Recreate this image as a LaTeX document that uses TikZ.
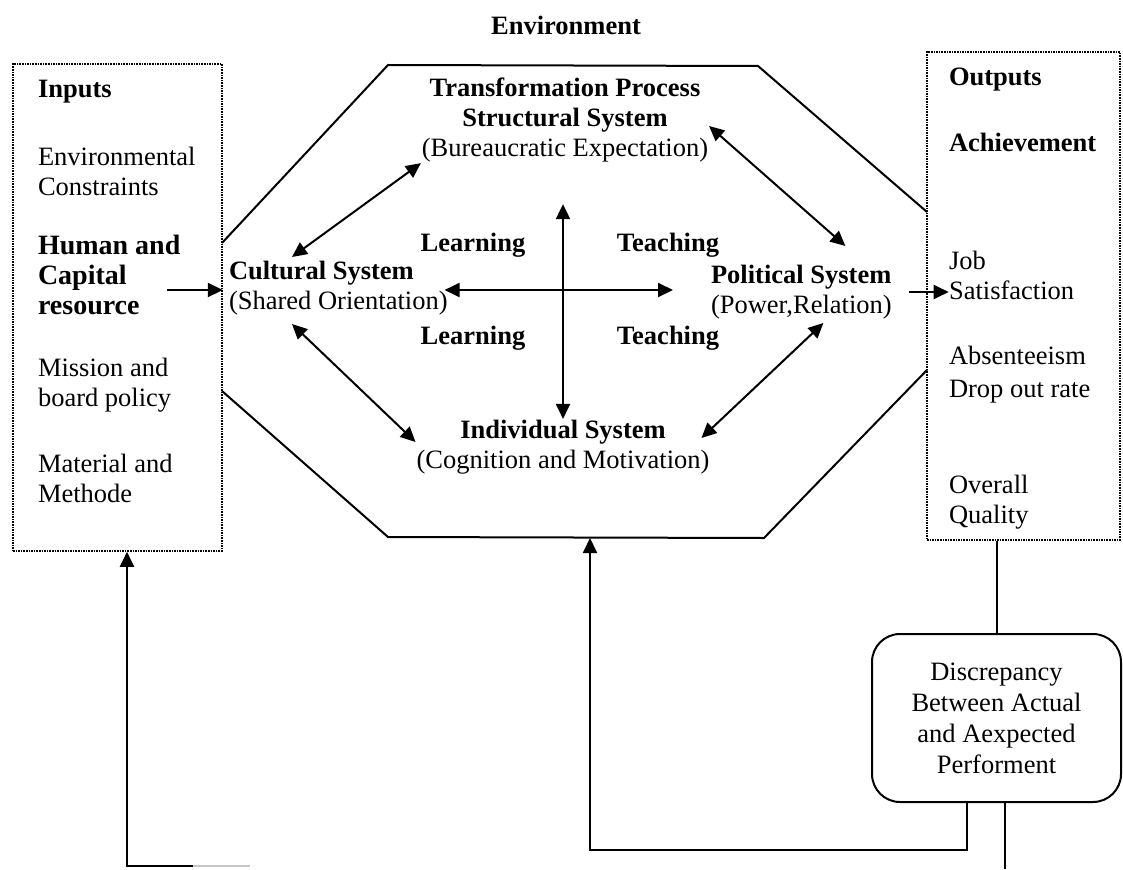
\documentclass[tikz,border=0pt]{standalone}
\usepackage{fontspec}
\setmainfont{Liberation Serif}
\usetikzlibrary{arrows.meta, calc}
\newcommand{\fs}{\fontsize{26.5}{30}\selectfont}

\begin{document}
\begin{tikzpicture}[x=1pt, y=-1pt, font=\fs, line width=2pt]
  \tikzset{
    txt/.style={inner sep=0pt, align=left},
    hd/.style={txt, font=\fs\bfseries},
    sys/.style={inner sep=0pt, align=center},
    frame/.style={draw, densely dotted, line width=1.6pt, inner sep=0pt},
    arr/.style={-{Triangle[length=15pt, width=14pt]}},
    dbl/.style={{Triangle[length=15pt, width=14pt]}-{Triangle[length=15pt, width=14pt]}}
  }
  \useasboundingbox (0,0) rectangle (1123,869);

  \node[hd] (env) at (566,25) {Environment};

  % inputs
  \node[frame, minimum width=209pt, minimum height=487pt] (inbox) at (117.5,307.5) {};
  \node[hd, anchor=west] (inp) at (37,92) {Inputs};
  \node[txt, anchor=west] (envc) at (37,171) {Environmental\\Constraints};
  \node[hd, anchor=west, font=\fontsize{28}{30}\selectfont\bfseries] (hum) at (37,275) {Human and\\Capital\\resource};
  \node[txt, anchor=west] (mis) at (37,385) {Mission and\\board policy};
  \node[txt, anchor=west] (mat) at (37,478) {Material and\\Methode};

  % outputs
  \node[frame, minimum width=193pt, minimum height=488pt] (outbox) at (1023.5,296) {};
  \node[hd, anchor=west] (outp) at (948,80) {Outputs};
  \node[hd, anchor=west] (ach) at (948,142) {Achievement};
  \node[txt, anchor=west] (job) at (948,275) {Job\\Satisfaction};
  \node[txt, anchor=west] (abs) at (948,355) {Absenteeism};
  \node[txt, anchor=west] (drop) at (948,392) {Drop out rate};
  \node[txt, anchor=west] (qual) at (948,502) {Overall\\Quality};

  % transformation octagon
  \draw (222,243) -- (388,65) -- (758,66) -- (927,212);
  \draw (927,370) -- (764,538) -- (388,537) -- (222,391);

  \node[sys] (trans) at (565,120) {{\bfseries Transformation Process}\\{\bfseries Structural System}\\(Bureaucratic Expectation)};
  \node[txt, anchor=west] (cult) at (228,288) {{\bfseries Cultural System}\\(Shared Orientation)};
  \node[txt, anchor=west] (pol) at (710,292) {{\bfseries Political System}\\(Power,Relation)};
  \node[sys] (indiv) at (563,447) {{\bfseries Individual System}\\(Cognition and Motivation)};

  \node[hd] (learnA) at (473,245) {Learning};
  \node[hd] (learnB) at (473,338) {Learning};
  \node[hd] (teachA) at (668,245) {Teaching};
  \node[hd] (teachB) at (668,338) {Teaching};

  \draw[dbl] ([xshift=64pt,yshift=3pt]cult.north west) -- (trans.south west);
  \draw[dbl] ([yshift=-6pt]trans.east) -- ([xshift=44pt,yshift=18pt]pol.north);
  \draw[dbl] ([xshift=64pt,yshift=-8pt]cult.south west) -- ([yshift=5pt]indiv.west);
  \draw[dbl] ([xshift=22pt,yshift=-3pt]pol.south) -- ([xshift=-9pt,yshift=9pt]indiv.east);
  \draw[dbl] (indiv.north) -- ([xshift=-2pt,yshift=-41pt]trans.south);
  \draw[dbl] ([xshift=-4pt,yshift=-2pt]cult.east) -- ([xshift=-37pt,yshift=2pt]pol.west);

  \draw[arr] ([xshift=-14pt,yshift=-15pt]hum.east) coordinate (inArr) -- (inArr -| inbox.east);
  \draw[arr] ([xshift=16pt]pol.east) -- ([xshift=56pt]pol.east);

  % feedback
  \node[draw, rounded corners=28pt, minimum width=249pt, minimum height=168pt, align=center, inner sep=0pt,
        font=\fontsize{26.5}{31}\selectfont] (disc) at (996.5,718) {Discrepancy\\Between Actual\\and Aexpected\\Performent};
  \draw (outbox.south -| disc.north) -- (disc.north);
  \coordinate (fbMid) at (590,850);
  \coordinate (octS) at (590,538);
  \draw[arr] ([xshift=-30pt]disc.south) |- (fbMid) -- (octS);
  \coordinate (fbEnd) at (1005,869);
  \draw ([xshift=8.5pt]disc.south) -- (fbEnd);
  \coordinate (fbLeft) at (250,866);
  \coordinate (fbFade) at (193,866);
  \coordinate (fbCorner) at (127,866);
  \draw[gray!45, line width=1.2pt] (fbLeft) -- (fbFade);
  \draw[arr] (fbFade) -- (fbCorner) -- (fbCorner |- inbox.south);
\end{tikzpicture}
\end{document}
